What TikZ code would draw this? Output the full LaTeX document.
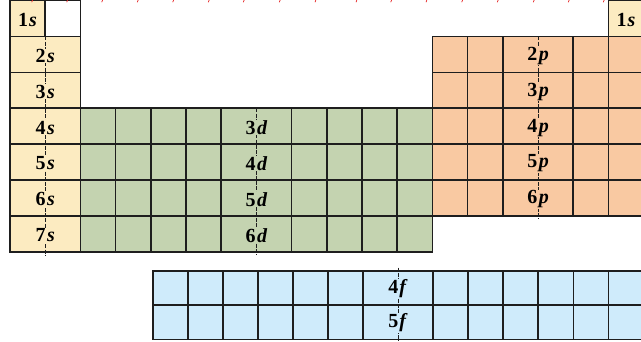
\documentclass[tikz,border=0pt]{standalone}
\usepackage{fontspec}
\setmainfont{Liberation Serif}
\definecolor{sfill}{HTML}{FCEBC1}
\definecolor{dfill}{HTML}{C4D3B0}
\definecolor{pfill}{HTML}{F9C9A2}
\definecolor{ffill}{HTML}{CFEBFB}
\definecolor{gridc}{HTML}{1E1E1E}
\definecolor{tickred}{HTML}{E52020}
\begin{document}
\begin{tikzpicture}[x=1pt,y=-1pt,
  gridline/.style={draw=gridc,line width=1.6pt,line cap=rect},
  midline/.style={draw=gridc,line width=1pt,dash pattern=on 4pt off 1.2pt},
  lab/.style={font=\fontsize{20}{20}\selectfont\bfseries,inner sep=0.5pt,text=black},
  redtick/.style={draw=tickred,line width=0.7pt}]
\useasboundingbox (0,0) rectangle (641,341);
% row lines: r_i = 0.5 + 35.93 i
% ---------- fills ----------
\fill[sfill] (10,0.5) rectangle (45.2,36.4);
\fill[white] (45.2,0.5) rectangle (80.4,36.4);
\fill[sfill] (10,36.4) rectangle (80.4,252);
\fill[dfill] (80.4,108.3) rectangle (432.4,252);
\fill[pfill] (432.4,36.4) rectangle (643.6,216.1);
\fill[sfill] (608.3,0.5) rectangle (643.6,36.4);
\fill[ffill] (152.7,270.7) rectangle (643.4,339.3);
% ---------- center lines ----------
\draw[midline] (45.2,36.4) -- (45.2,255);
\draw[midline] (256.4,108.3) -- (256.4,255);
\draw[midline] (538,36.4) -- (538,219);
\draw[midline] (398.05,267.5) -- (398.05,341);
% ---------- s block grid ----------
\foreach \i in {0,...,7} \draw[gridline] (10,{0.5+\i*35.93}) -- (80.4,{0.5+\i*35.93});
\draw[gridline] (10,0.5) -- (10,252);
\draw[gridline] (80.4,0.5) -- (80.4,252);
\draw[gridline] (45.2,0.5) -- (45.2,36.4);
% ---------- d block grid ----------
\foreach \i in {3,...,7} \draw[gridline] (80.4,{0.5+\i*35.93}) -- (432.4,{0.5+\i*35.93});
\foreach \j in {0,...,10} {
  \ifnum\j=5\else
  \draw[gridline] ({80.4+\j*35.2},108.3) -- ({80.4+\j*35.2},252);
  \fi}
% ---------- p block grid ----------
\foreach \i in {1,...,6} \draw[gridline] (432.4,{0.5+\i*35.93}) -- (650,{0.5+\i*35.93});
\foreach \j in {0,1,2,4,5} \draw[gridline] ({432.4+\j*35.2},36.4) -- ({432.4+\j*35.2},216.1);
\draw[gridline] (432.4,216.1) -- (432.4,252);
% right 1s cell
\draw[gridline] (650,0.5) -- (608.3,0.5) -- (608.3,36.4);
% ---------- f block grid ----------
\foreach \y in {270.7,305,339.3} \draw[gridline] (152.7,\y) -- (650,\y);
\foreach \j in {0,...,13} {
  \ifnum\j=7\else
  \draw[gridline] ({152.7+\j*35.05},270.7) -- ({152.7+\j*35.05},339.3);
  \fi}
% ---------- labels ----------
\node[lab,fill=sfill] (s1) at (27.6,19.8) {1\kern1pt\textit{s}};
\node[lab,fill=sfill] (s1b) at (625.9,19.8) {1\kern1pt\textit{s}};
\foreach \n/\i in {2/1,3/2,4/3,5/4,6/5,7/6}
  \node[lab,fill=sfill] (s\n) at (45.2,{0.5+\i*35.93+19.3}) {\n\kern1.5pt\textit{s}};
\foreach \n/\i in {3/3,4/4,5/5,6/6}
  \node[lab,fill=dfill] (d\n) at (256.4,{0.5+\i*35.93+19.3}) {\n\kern1.5pt\textit{d}};
\foreach \n/\i in {2/1,3/2,4/3,5/4,6/5}
  \node[lab,fill=pfill] (p\n) at (538,{0.5+\i*35.93+19.3}) {\n\kern1.5pt\textit{p}};
\node[lab,fill=ffill] (f4) at (398.05,288.8) {4\kern1pt\textit{f}};
\node[lab,fill=ffill] (f5) at (398.05,323) {5\kern1pt\textit{f}};
% ---------- red ticks at top edge ----------
\foreach \x in {31.7,66.7,101.7,137.3,172.7,208.3,243.3,279.3,315,356,390.7,426,461.7,497.3,533.3,568.3,603.3}
  \draw[redtick] (\x,2.2) -- ({\x+0.9},0);
\end{tikzpicture}
\end{document}
